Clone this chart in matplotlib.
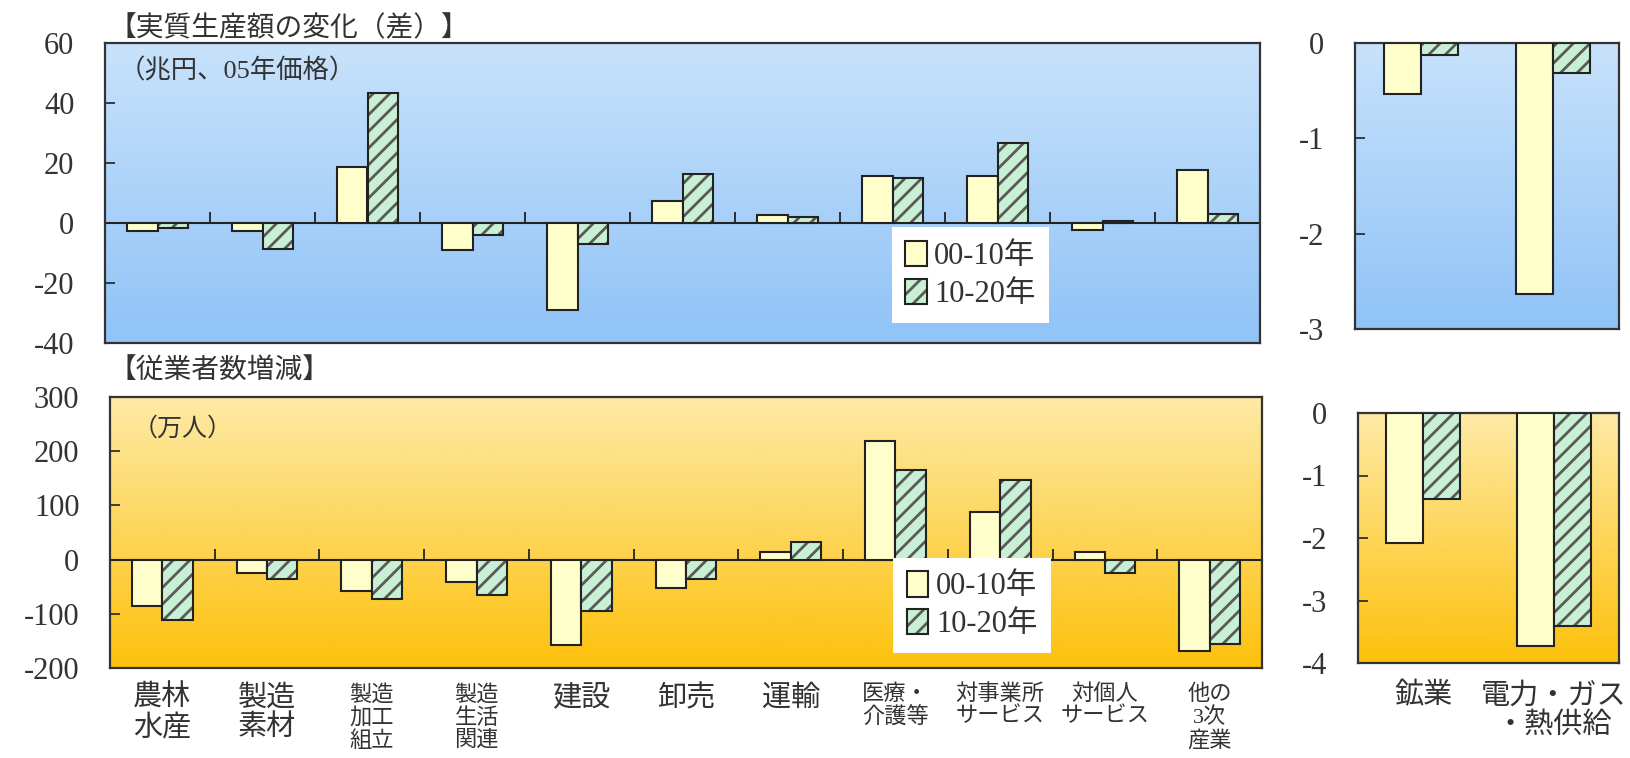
import numpy as np
import matplotlib
matplotlib.use("Agg")
import matplotlib.pyplot as plt
from matplotlib.patches import Patch
from matplotlib.colors import LinearSegmentedColormap
from matplotlib.legend_handler import HandlerTuple

plt.rcParams['axes.unicode_minus'] = False
plt.rcParams['hatch.linewidth'] = 2.0
SERIF = ['Liberation Serif', 'Noto Sans CJK JP']
JP = ['Noto Sans CJK JP']

categories = ['農林\n水産', '製造\n素材', '製造\n加工\n組立', '製造\n生活\n関連', '建設', '卸売', '運輸',
              '医療・\n介護等', '対事業所\nサービス', '対個人\nサービス', '他の\n3次\n産業']
cat_sizes = [21, 21, 16, 16, 21, 21, 21, 16, 16, 16, 16]
small_cats = ['鉱業', '電力・ガス\n・熱供給']
series_names = ['00-10年', '10-20年']

# 実質生産額の変化（兆円）
prod_00_10 = [-2.5, -2.6, 18.7, -9.1, -28.9, 7.3, 2.7, 15.6, 15.6, -2.2, 17.6]
prod_10_20 = [-1.8, -8.5, 43.3, -3.9, -6.9, 16.4, 1.9, 15.0, 26.8, 0.7, 3.1]
prod_small_00_10 = [-0.54, -2.63]
prod_small_10_20 = [-0.13, -0.31]

# 従業者数増減（万人）
emp_00_10 = [-85, -25, -58, -42, -158, -52, 14, 219, 87, 14, -168]
emp_10_20 = [-112, -36, -73, -65, -94, -36, 32, 166, 147, -25, -156]
emp_small_00_10 = [-2.08, -3.73]
emp_small_10_20 = [-1.37, -3.40]

YELLOW = '#ffffcc'
GREEN = '#c8f0d4'
EDGE = '#222222'
HATCH = '#5a5a5a'
blue_cm = LinearSegmentedColormap.from_list('b', ['#90c3f7', '#c8e2fb'])
gold_cm = LinearSegmentedColormap.from_list('g', ['#fdc10c', '#fdeaa6'])

fig = plt.figure(figsize=(16.3, 7.58), dpi=100)
W, H = 1630, 758


def add_ax(x0, y0, x1, y1):
    return fig.add_axes([x0 / W, 1 - y1 / H, (x1 - x0) / W, (y1 - y0) / H])


def style(ax, cmap, ylim, yticks):
    grad = np.linspace(0, 1, 256).reshape(-1, 1)
    ax.imshow(grad, cmap=cmap, origin='lower', aspect='auto',
              extent=[0, 1, 0, 1], transform=ax.transAxes, zorder=0)
    ax.set_ylim(*ylim)
    ax.set_yticks(yticks)
    ax.tick_params(axis='y', direction='in', length=7, width=1.2, colors='#222222',
                   labelcolor='#333333', labelsize=22, pad=22)
    for lab in ax.get_yticklabels():
        lab.set_family(SERIF)
    for s in ax.spines.values():
        s.set_linewidth(1.6)
        s.set_color('#333333')


def draw_bars(ax, a, b, width):
    x = np.arange(len(a))
    ax.bar(x - width / 2, a, width, color=YELLOW, edgecolor=EDGE, linewidth=1.5, zorder=3)
    ax.bar(x + width / 2, b, width, color=GREEN, edgecolor=HATCH, hatch='//', linewidth=0, zorder=3)
    ax.bar(x + width / 2, b, width, color='none', edgecolor=EDGE, linewidth=1.5, zorder=4)
    ax.set_xlim(-0.5, len(a) - 0.5)


def zero_axis(ax, n, frac):
    sec = ax.secondary_xaxis(frac)
    sec.set_xticks(np.arange(n - 1) + 0.5)
    sec.tick_params(direction='in', length=8, width=1.3, colors='#222222', labelbottom=False)
    sec.spines['bottom'].set_linewidth(1.5)
    sec.spines['bottom'].set_color('#222222')


def add_legend(ax, x, y):
    h1 = Patch(facecolor=YELLOW, edgecolor=EDGE, linewidth=1.5)
    h2 = (Patch(facecolor=GREEN, edgecolor=HATCH, hatch='//', linewidth=0),
          Patch(facecolor='none', edgecolor=EDGE, linewidth=1.5))
    leg = ax.legend([h1, h2], series_names, handler_map={tuple: HandlerTuple(ndivide=1)},
                    loc='lower left', bbox_to_anchor=(x, y), borderaxespad=0,
                    prop={'family': SERIF, 'size': 22}, handlelength=0.7, handleheight=0.9,
                    handletextpad=0.25, labelspacing=0.25, borderpad=0.45,
                    frameon=True, fancybox=False, framealpha=1)
    leg.get_frame().set_edgecolor('none')
    leg.set_zorder(6)
    for t in leg.get_texts():
        t.set_color('#333333')


# 上段：実質生産額
ax1 = add_ax(105, 43, 1260, 343)
style(ax1, blue_cm, (-40, 60), [-40, -20, 0, 20, 40, 60])
draw_bars(ax1, prod_00_10, prod_10_20, 0.29)
zero_axis(ax1, len(categories), 0.4)
ax1.set_xticks([])
add_legend(ax1, 0.681, 0.067)
ax1.text(0.012, 0.95, '（兆円、05年価格）', transform=ax1.transAxes, ha='left', va='top',
         family=SERIF, fontsize=19, color='#333333', zorder=7)
fig.text(108 / W, 1 - 28 / H, '【実質生産額の変化（差）】', ha='left', va='center',
         family=JP, fontsize=20, color='#333333')

ax2 = add_ax(1355, 43, 1619, 329)
style(ax2, blue_cm, (-3, 0), [-3, -2, -1, 0])
draw_bars(ax2, prod_small_00_10, prod_small_10_20, 0.284)
ax2.set_xticks([])

# 下段：従業者数
ax3 = add_ax(110, 397, 1262, 668)
style(ax3, gold_cm, (-200, 300), [-200, -100, 0, 100, 200, 300])
draw_bars(ax3, emp_00_10, emp_10_20, 0.29)
zero_axis(ax3, len(categories), 0.4)
add_legend(ax3, 0.68, 0.055)
ax3.set_xticks(np.arange(len(categories)))
ax3.set_xticklabels(categories)
ax3.tick_params(axis='x', length=0, pad=12)
for lab, fs in zip(ax3.get_xticklabels(), cat_sizes):
    lab.set_family(SERIF)
    lab.set_fontsize(fs)
    lab.set_color('#333333')
    lab.set_linespacing(1.15)
ax3.text(0.02, 0.93, '（万人）', transform=ax3.transAxes, ha='left', va='top',
         family=JP, fontsize=18, color='#333333', zorder=7)
fig.text(108 / W, 1 - 370 / H, '【従業者数増減】', ha='left', va='center',
         family=JP, fontsize=20, color='#333333')

ax4 = add_ax(1358, 413, 1619, 663)
style(ax4, gold_cm, (-4, 0), [-4, -3, -2, -1, 0])
draw_bars(ax4, emp_small_00_10, emp_small_10_20, 0.284)
ax4.set_xticks(np.arange(len(small_cats)))
ax4.set_xticklabels(small_cats)
ax4.tick_params(axis='x', length=0, pad=14)
for lab in ax4.get_xticklabels():
    lab.set_family(SERIF)
    lab.set_fontsize(21)
    lab.set_color('#333333')
    lab.set_linespacing(1.15)

fig.savefig('out.png', dpi=100, facecolor='white')
